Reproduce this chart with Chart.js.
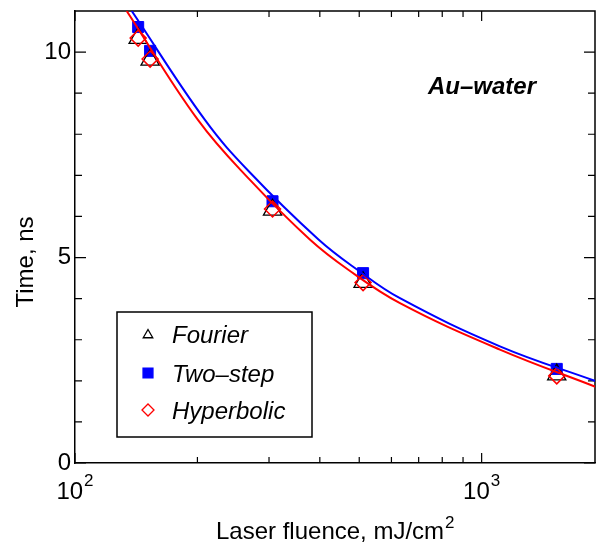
<!DOCTYPE html>
<html>
<head>
<meta charset="utf-8">
<script src="https://cdn.jsdelivr.net/npm/chart.js@4.4.1/dist/chart.umd.min.js"></script>
<style>
  html, body { margin: 0; padding: 0; background: #fff; }
  #wrap { width: 596px; height: 552px; }
</style>
</head>
<body>
<div id="wrap"><canvas id="myChart"></canvas></div>
<script>
// measured points, time vs laser fluence
const fluence = [143, 153, 306, 511, 1530];
const fourierTime = [10.34, 9.81, 6.16, 4.40, 2.15];
const twoStepTime = [10.61, 10.03, 6.37, 4.62, 2.29];
const hyperbolicTime = [10.34, 9.83, 6.18, 4.39, 2.12];

// fitted curves
const twoStepFitX = [137.9, 208.7, 269.3, 397, 493.6, 629.7, 1109, 1910];
const twoStepFitY = [11.0, 8.35, 7.07, 5.44, 4.71, 4.01, 2.84, 1.99];
const hyperbolicFitX = [134.0, 200.6, 269.3, 378, 469, 629.7, 1109, 1910];
const hyperbolicFitY = [11.0, 8.35, 6.89, 5.44, 4.71, 3.89, 2.76, 1.85];

// axis ticks
const xMajorTicks = [100, 1000];
const xMinorTicks = [200, 300, 400, 500, 600, 700, 800, 900];
const yMajorTicks = [0, 5, 10];
const yMinorTicks = [1, 2, 3, 4, 6, 7, 8, 9];

const seriesNames = ['Fourier', 'Two\u2013step', 'Hyperbolic'];
const FONT = 'Liberation Sans, Arial, sans-serif';

function pairs(xs, ys) {
    return xs.map((x, i) => ({ x: x, y: ys[i] }));
}

// inward ticks on all four sides plus the top/right frame
const frame = {
    id: 'frame',
    beforeDatasetsDraw(chart) {
        const ctx = chart.ctx;
        const a = chart.chartArea;
        const xs = chart.scales.x, ys = chart.scales.y;
        ctx.save();
        ctx.strokeStyle = '#000';
        ctx.lineWidth = 1.5;
        ctx.beginPath();
        ctx.moveTo(a.left, a.top);
        ctx.lineTo(a.right, a.top);
        ctx.lineTo(a.right, a.bottom);
        ctx.stroke();
        ctx.lineWidth = 1.2;
        ctx.beginPath();
        const xt = (v, len) => {
            const p = xs.getPixelForValue(v);
            ctx.moveTo(p, a.bottom); ctx.lineTo(p, a.bottom - len);
            ctx.moveTo(p, a.top); ctx.lineTo(p, a.top + len);
        };
        const yt = (v, len) => {
            const p = ys.getPixelForValue(v);
            ctx.moveTo(a.left, p); ctx.lineTo(a.left + len, p);
            ctx.moveTo(a.right, p); ctx.lineTo(a.right - len, p);
        };
        xMajorTicks.forEach(v => xt(v, 10));
        xMinorTicks.forEach(v => xt(v, 6));
        yMajorTicks.forEach(v => yt(v, 11));
        yMinorTicks.forEach(v => yt(v, 7));
        ctx.stroke();
        ctx.restore();
    },
    afterDraw(chart) {
        const ctx = chart.ctx;
        const xs = chart.scales.x;
        const ds = chart.data.datasets;
        ctx.save();
        ctx.fillStyle = '#000';
        ctx.textBaseline = 'alphabetic';

        // x tick labels as powers of ten
        xMajorTicks.forEach(v => {
            const p = xs.getPixelForValue(v);
            ctx.font = '24px ' + FONT;
            const base = '10';
            const exp = String(Math.round(Math.log10(v)));
            const wb = ctx.measureText(base).width;
            ctx.font = '17px ' + FONT;
            const we = ctx.measureText(exp).width;
            const left = p - (wb + 1 + we) / 2;
            ctx.font = '24px ' + FONT;
            ctx.textAlign = 'left';
            ctx.fillText(base, left, 499);
            ctx.font = '17px ' + FONT;
            ctx.fillText(exp, left + wb + 1, 486);
        });

        // x axis title
        ctx.font = '24px ' + FONT;
        ctx.textAlign = 'left';
        const xTitle = 'Laser fluence, mJ/cm';
        ctx.fillText(xTitle, 216, 539);
        const wt = ctx.measureText(xTitle).width;
        ctx.font = '17px ' + FONT;
        ctx.fillText('2', 216 + wt + 1, 528);

        // y axis title
        ctx.save();
        ctx.translate(33, 262);
        ctx.rotate(-Math.PI / 2);
        ctx.font = '24px ' + FONT;
        ctx.textAlign = 'center';
        ctx.fillText('Time, ns', 0, 0);
        ctx.restore();

        // sample label
        ctx.font = 'italic bold 24px ' + FONT;
        ctx.textAlign = 'left';
        ctx.fillText('Au\u2013water', 428, 94);

        // legend box
        ctx.lineWidth = 1.5;
        ctx.strokeStyle = '#000';
        ctx.strokeRect(117, 312, 195, 125);
        const rows = [334, 373, 410];
        const legendRadius = [5.5, 7, 6];
        [0, 1, 2].forEach(i => {
            const d = ds[i];
            ctx.save();
            ctx.lineWidth = 1.3;
            ctx.strokeStyle = d.borderColor;
            ctx.fillStyle = d.backgroundColor;
            Chart.helpers.drawPoint(ctx, {
                pointStyle: d.pointStyle,
                radius: legendRadius[i],
                rotation: 0,
                borderWidth: 1.3
            }, 148, rows[i] + (i === 0 ? 1 : 0));
            ctx.restore();
            ctx.font = 'italic 24px ' + FONT;
            ctx.fillStyle = '#000';
            ctx.fillText(seriesNames[i], 172, rows[i] + 8.5);
        });
        ctx.restore();
    }
};

new Chart(document.getElementById('myChart'), {
    type: 'scatter',
    data: {
        datasets: [
            {
                label: seriesNames[0],
                data: pairs(fluence, fourierTime),
                pointStyle: 'triangle',
                pointRadius: 10.5,
                borderColor: '#000',
                backgroundColor: 'rgba(0,0,0,0)',
                borderWidth: 1.3,
                order: 2
            },
            {
                label: seriesNames[1],
                data: pairs(fluence, twoStepTime),
                pointStyle: 'rect',
                pointRadius: 7.8,
                borderColor: '#0000ff',
                backgroundColor: '#0000ff',
                borderWidth: 1,
                order: 3
            },
            {
                label: seriesNames[2],
                data: pairs(fluence, hyperbolicTime),
                pointStyle: 'rectRot',
                pointRadius: 8,
                borderColor: '#ff0000',
                backgroundColor: 'rgba(0,0,0,0)',
                borderWidth: 1.5,
                order: 1
            },
            {
                label: 'Two-step fit',
                data: pairs(twoStepFitX, twoStepFitY),
                showLine: true,
                pointRadius: 0,
                borderColor: '#0000ff',
                borderWidth: 2,
                tension: 0.4,
                order: 0
            },
            {
                label: 'Hyperbolic fit',
                data: pairs(hyperbolicFitX, hyperbolicFitY),
                showLine: true,
                pointRadius: 0,
                borderColor: '#ff0000',
                borderWidth: 2,
                tension: 0.4,
                order: 0
            }
        ]
    },
    options: {
        responsive: true,
        maintainAspectRatio: false,
        animation: false,
        layout: {
            autoPadding: false,
            padding: { top: 11, right: 1, left: 0, bottom: 0 }
        },
        plugins: {
            legend: { display: false },
            tooltip: { enabled: false }
        },
        scales: {
            x: {
                type: 'logarithmic',
                min: 100,
                max: 1900,
                afterBuildTicks: s => { s.ticks = xMajorTicks.map(v => ({ value: v })); },
                afterFit: s => {
                    s.height = 89;
                    s.paddingLeft = 0;
                    s.paddingRight = 0;
                },
                ticks: { display: false },
                grid: { display: false },
                border: { display: true, color: '#000', width: 1.5 }
            },
            y: {
                min: 0,
                max: 11,
                afterBuildTicks: s => { s.ticks = yMajorTicks.map(v => ({ value: v })); },
                afterFit: s => {
                    s.width = 75;
                    s.paddingTop = 0;
                    s.paddingBottom = 0;
                },
                ticks: {
                    color: '#000',
                    padding: 4,
                    font: { family: FONT, size: 24 }
                },
                grid: { display: true, drawOnChartArea: false, drawTicks: false },
                border: { display: true, color: '#000', width: 1.5 }
            }
        }
    },
    plugins: [frame]
});
</script>
</body>
</html>
